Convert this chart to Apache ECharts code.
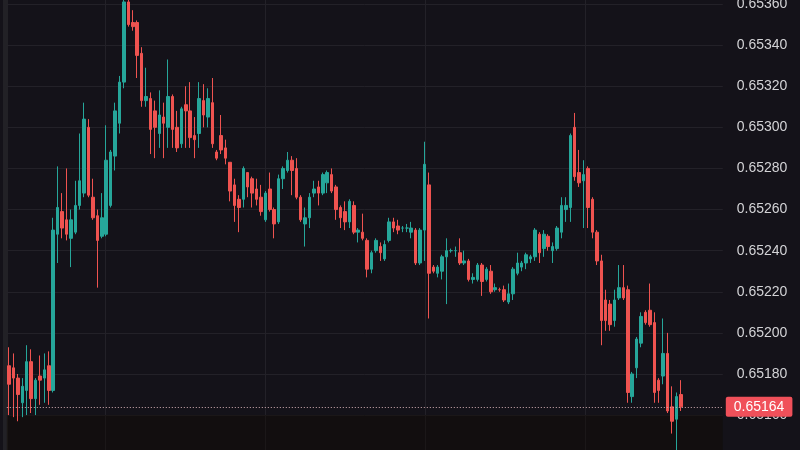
<!DOCTYPE html>
<html><head><meta charset="utf-8">
<script src="https://cdn.jsdelivr.net/npm/echarts@6/dist/echarts.min.js"></script>
<style>html,body{margin:0;padding:0;background:#141219;}#c{width:800px;height:450px;}</style>
</head><body><div id="c"></div>
<script>
const opens = [0.65184,0.65183,0.65178,0.65166,0.65172,0.65186,0.65168,0.65179,0.65178,0.65184,
0.65172,0.65248,0.65259,0.65255,0.65246,0.65249,0.65262,0.65268,0.65300,0.65266,
0.65257,0.65247,0.65248,0.65262,0.65286,0.65302,0.65322,0.65361,0.65351,0.65351,
0.65336,0.65313,0.65314,0.65308,0.65297,0.65305,0.65300,0.65315,0.65300,0.65292,
0.65311,0.65308,0.65296,0.65297,0.65313,0.65305,0.65312,0.65288,0.65296,0.65290,
0.65283,0.65272,0.65265,0.65265,0.65278,0.65275,0.65270,0.65266,0.65255,0.65270,
0.65260,0.65254,0.65275,0.65279,0.65284,0.65280,0.65266,0.65253,0.65256,0.65268,
0.65271,0.65268,0.65273,0.65277,0.65271,0.65261,0.65259,0.65254,0.65262,0.65249,
0.65249,0.65245,0.65231,0.65240,0.65242,0.65236,0.65245,0.65254,0.65252,0.65251,
0.65251,0.65249,0.65250,0.65234,0.65250,0.65272,0.65232,0.65229,0.65230,0.65237,
0.65240,0.65240,0.65239,0.65234,0.65235,0.65226,0.65226,0.65233,0.65226,0.65230,
0.65221,0.65221,0.65221,0.65215,0.65219,0.65229,0.65232,0.65234,0.65236,0.65237,
0.65248,0.65241,0.65247,0.65240,0.65241,0.65249,0.65260,0.65261,0.65300,0.65278,
0.65274,0.65280,0.65265,0.65249,0.65235,0.65216,0.65214,0.65206,0.65217,0.65222,
0.65221,0.65169,0.65183,0.65195,0.65210,0.65211,0.65205,0.65177,0.65179,0.65190,
0.65164,0.65158,0.65170];
const closes = [0.65175,0.65178,0.65170,0.65174,0.65186,0.65168,0.65177,0.65177,0.65182,0.65172,
0.65250,0.65261,0.65251,0.65248,0.65255,0.65262,0.65274,0.65304,0.65267,0.65256,
0.65245,0.65256,0.65284,0.65288,0.65308,0.65322,0.65361,0.65350,0.65349,0.65335,
0.65313,0.65315,0.65299,0.65300,0.65306,0.65302,0.65315,0.65299,0.65290,0.65309,
0.65308,0.65295,0.65294,0.65314,0.65306,0.65314,0.65292,0.65285,0.65289,0.65285,
0.65269,0.65262,0.65261,0.65280,0.65271,0.65268,0.65265,0.65259,0.65268,0.65260,
0.65253,0.65275,0.65280,0.65284,0.65279,0.65266,0.65255,0.65256,0.65266,0.65270,
0.65268,0.65277,0.65278,0.65269,0.65260,0.65256,0.65254,0.65264,0.65249,0.65250,
0.65246,0.65231,0.65239,0.65245,0.65239,0.65243,0.65254,0.65251,0.65250,0.65251,
0.65251,0.65251,0.65234,0.65250,0.65282,0.65229,0.65230,0.65232,0.65237,0.65240,
0.65240,0.65240,0.65234,0.65235,0.65226,0.65227,0.65233,0.65225,0.65231,0.65220,
0.65222,0.65221,0.65216,0.65219,0.65231,0.65234,0.65234,0.65238,0.65237,0.65250,
0.65239,0.65248,0.65242,0.65242,0.65251,0.65262,0.65262,0.65296,0.65276,0.65273,
0.65277,0.65261,0.65249,0.65235,0.65206,0.65206,0.65204,0.65216,0.65222,0.65217,
0.65171,0.65180,0.65197,0.65208,0.65205,0.65204,0.65171,0.65172,0.65190,0.65162,
0.65157,0.65169,0.65164];
const lows = [0.65160,0.65159,0.65157,0.65159,0.65160,0.65161,0.65160,0.65165,0.65166,0.65165,
0.65171,0.65234,0.65246,0.65245,0.65232,0.65248,0.65260,0.65266,0.65266,0.65255,
0.65222,0.65246,0.65247,0.65261,0.65279,0.65297,0.65319,0.65349,0.65347,0.65324,
0.65310,0.65310,0.65287,0.65285,0.65290,0.65285,0.65290,0.65290,0.65288,0.65290,
0.65290,0.65290,0.65285,0.65290,0.65300,0.65300,0.65290,0.65284,0.65287,0.65282,
0.65264,0.65254,0.65249,0.65261,0.65266,0.65261,0.65262,0.65257,0.65254,0.65259,
0.65246,0.65253,0.65270,0.65278,0.65267,0.65265,0.65254,0.65242,0.65251,0.65266,
0.65262,0.65267,0.65268,0.65268,0.65255,0.65251,0.65250,0.65251,0.65248,0.65244,
0.65245,0.65227,0.65229,0.65239,0.65235,0.65235,0.65244,0.65249,0.65248,0.65249,
0.65249,0.65246,0.65233,0.65233,0.65235,0.65207,0.65229,0.65227,0.65226,0.65214,
0.65239,0.65237,0.65233,0.65233,0.65225,0.65224,0.65225,0.65218,0.65225,0.65219,
0.65220,0.65220,0.65215,0.65214,0.65216,0.65228,0.65230,0.65231,0.65234,0.65235,
0.65234,0.65237,0.65240,0.65234,0.65240,0.65246,0.65254,0.65254,0.65274,0.65271,
0.65251,0.65251,0.65246,0.65233,0.65194,0.65201,0.65201,0.65203,0.65216,0.65216,
0.65166,0.65166,0.65178,0.65193,0.65204,0.65203,0.65166,0.65166,0.65175,0.65161,
0.65151,0.65143,0.65162];
const highs = [0.65193,0.65190,0.65180,0.65178,0.65194,0.65192,0.65178,0.65189,0.65190,0.65191,
0.65256,0.65281,0.65268,0.65280,0.65260,0.65274,0.65297,0.65312,0.65304,0.65275,
0.65260,0.65268,0.65301,0.65289,0.65312,0.65325,0.65362,0.65362,0.65357,0.65352,
0.65339,0.65329,0.65317,0.65313,0.65318,0.65312,0.65333,0.65316,0.65308,0.65310,
0.65320,0.65322,0.65305,0.65322,0.65321,0.65319,0.65324,0.65289,0.65306,0.65294,
0.65283,0.65275,0.65267,0.65281,0.65278,0.65276,0.65275,0.65272,0.65269,0.65278,
0.65261,0.65277,0.65281,0.65288,0.65286,0.65285,0.65267,0.65261,0.65268,0.65274,
0.65274,0.65278,0.65279,0.65280,0.65272,0.65262,0.65264,0.65265,0.65264,0.65251,
0.65258,0.65246,0.65240,0.65246,0.65244,0.65245,0.65256,0.65256,0.65255,0.65252,
0.65253,0.65254,0.65251,0.65251,0.65293,0.65278,0.65233,0.65233,0.65238,0.65246,
0.65241,0.65242,0.65246,0.65240,0.65236,0.65229,0.65234,0.65234,0.65232,0.65233,
0.65224,0.65222,0.65223,0.65224,0.65232,0.65239,0.65235,0.65239,0.65238,0.65251,
0.65249,0.65250,0.65248,0.65244,0.65252,0.65266,0.65266,0.65297,0.65307,0.65289,
0.65284,0.65281,0.65266,0.65250,0.65238,0.65221,0.65216,0.65221,0.65233,0.65233,
0.65223,0.65181,0.65198,0.65210,0.65211,0.65224,0.65210,0.65178,0.65207,0.65200,
0.65174,0.65171,0.65177];
const lastPrice = 0.65164;
const yMin = 0.6514, yMax = 0.6538, yStep = 0.0002;
const slotCount = 162;
const categories = Array.from({length: slotCount}, (_, i) => 'T' + i);
const candles = opens.map((o, i) => [o, closes[i], lows[i], highs[i]]);

const UP = '#26a69a', DOWN = '#ef5350';
const FONT = "'Liberation Sans', Arial, sans-serif";
const chart = echarts.init(document.getElementById('c'), null, {renderer: 'canvas'});
chart.setOption({
  backgroundColor: '#141219',
  animation: false,
  graphic: [{type: 'rect', left: 3, top: 0, z: -1, shape: {width: 5, height: 450}, style: {fill: '#222126'}}],
  grid: [
    {left: 6.8, right: 77.2, top: -37.1, bottom: -6.2, outerBoundsMode: 'none', containLabel: false},
    {left: -55, right: 75, top: 0, bottom: 0, outerBoundsMode: 'none', containLabel: false}
  ],
  xAxis: [
    {type: 'category', gridIndex: 0, data: categories, boundaryGap: true,
     axisLine: {show: false}, axisTick: {show: false}, axisLabel: {show: false}, splitLine: {show: false}},
    {type: 'value', gridIndex: 1, min: 0, max: 780, interval: 160,
     axisLine: {show: false}, axisTick: {show: false}, axisLabel: {show: false},
     splitLine: {show: true, showMinLine: false, showMaxLine: false, lineStyle: {color: '#232128', width: 1}}}
  ],
  yAxis: [
    {type: 'value', gridIndex: 0, position: 'right', min: yMin, max: yMax, interval: yStep, scale: true,
     axisLine: {show: false}, axisTick: {show: false},
     axisLabel: {show: true, margin: 14, color: '#d3d3d6', fontSize: 14, fontFamily: FONT,
                 formatter: v => v.toFixed(5)},
     splitLine: {show: true, lineStyle: {color: '#232128', width: 1}}},
    {type: 'value', gridIndex: 1, min: 0, max: 1, show: false, splitLine: {show: false}}
  ],
  series: [{
    type: 'candlestick', xAxisIndex: 0, yAxisIndex: 0, data: candles, barWidth: 3,
    itemStyle: {color: UP, color0: DOWN, borderColor: UP, borderColor0: DOWN, borderWidth: 1},
    markArea: {silent: true, itemStyle: {color: 'rgba(16,9,0,0.4)'},
      data: [[{yAxis: yMin}, {yAxis: 0.6516}]]},
    markLine: {
      silent: true, symbol: ['none', 'none'], animation: false, precision: 5,
      lineStyle: {type: [1, 2], color: '#d2aeb3', width: 1},
      label: {show: true, position: 'end', distance: 3, formatter: lastPrice.toFixed(5),
              backgroundColor: '#f0505a', color: '#ffffff', padding: [3, 8, 3, 8], fontSize: 14,
              fontFamily: FONT, borderRadius: 2},
      data: [{yAxis: lastPrice}]
    }
  }]
});
</script></body></html>
